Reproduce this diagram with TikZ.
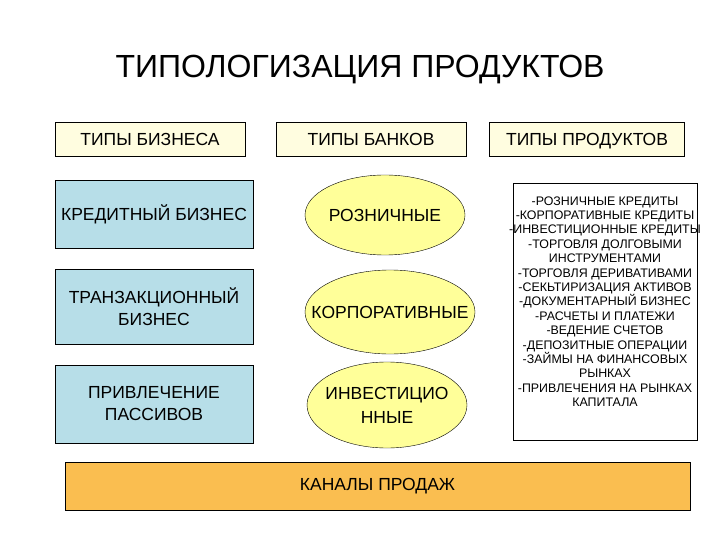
\documentclass[tikz,border=0pt]{standalone}
\usepackage{fontspec}
\setmainfont{Liberation Sans}
\usetikzlibrary{shapes.geometric}
\begin{document}
\begin{tikzpicture}[x=1pt,y=-1pt,
  hdr/.style={draw=black,fill=yellow!12,minimum width=190pt,minimum height=34pt,text height=12.5pt,text depth=0pt,font=\fontsize{17.5}{20}\selectfont},
  biz/.style={draw=black,fill={rgb,255:red,183;green,222;blue,232},minimum width=198pt,align=center,font=\fontsize{17.5}{22}\selectfont},
  bank/.style={ellipse,draw=black,fill={rgb,255:red,255;green,255;blue,153},inner sep=0pt},
  banktext/.style={align=center,font=\fontsize{17.5}{24}\selectfont}]
\useasboundingbox (0,0) rectangle (720,540);
\node (title) at (360,70) {\fontsize{32}{36}\selectfont ТИПОЛОГИЗАЦИЯ ПРОДУКТОВ};
\node[hdr] (h1) at (150,139) {ТИПЫ БИЗНЕСА};
\node[hdr] (h2) at (371,139) {ТИПЫ БАНКОВ};
\node[hdr,minimum width=195pt] (h3) at (587,139) {ТИПЫ ПРОДУКТОВ};
\node[biz,minimum height=68pt] (b1) at (154,214) {КРЕДИТНЫЙ БИЗНЕС};
\node[biz,minimum height=75pt] (b2) at (154,307) {ТРАНЗАКЦИОННЫЙ\\БИЗНЕС};
\node[biz,minimum height=78pt] (b3) at (154,404) {ПРИВЛЕЧЕНИЕ\\ПАССИВОВ};
\node[bank,minimum width=160pt,minimum height=80pt] (e1) at (385,215) {};
\node[bank,minimum width=170pt,minimum height=84pt] (e2) at (390,312) {};
\node[bank,minimum width=160pt,minimum height=86pt] (e3) at (387,405) {};
\node[banktext] (t1) at (e1) {РОЗНИЧНЫЕ};
\node[banktext] (t2) at (e2) {КОРПОРАТИВНЫЕ};
\node[banktext] (t3) at (e3) {ИНВЕСТИЦИО\\ННЫЕ};
\node[draw=black,fill=white,minimum width=184pt,minimum height=257pt,inner sep=0pt] (p) at (605,311.5) {};
\node[align=center,font=\fontsize{12.4}{14.4}\selectfont,anchor=north] (pt) at (605,193) {%
-РОЗНИЧНЫЕ КРЕДИТЫ\\-КОРПОРАТИВНЫЕ КРЕДИТЫ\\-ИНВЕСТИЦИОННЫЕ КРЕДИТЫ\\-ТОРГОВЛЯ ДОЛГОВЫМИ\\ИНСТРУМЕНТАМИ\\-ТОРГОВЛЯ ДЕРИВАТИВАМИ\\-СЕКЬТИРИЗАЦИЯ АКТИВОВ\\-ДОКУМЕНТАРНЫЙ БИЗНЕС\\-РАСЧЕТЫ И ПЛАТЕЖИ\\-ВЕДЕНИЕ СЧЕТОВ\\-ДЕПОЗИТНЫЕ ОПЕРАЦИИ\\-ЗАЙМЫ НА ФИНАНСОВЫХ\\РЫНКАХ\\-ПРИВЛЕЧЕНИЯ НА РЫНКАХ\\КАПИТАЛА};
\node[draw=black,fill={rgb,255:red,250;green,190;blue,80},minimum width=625pt,minimum height=48pt,font=\fontsize{17.5}{20}\selectfont] (ch) at (377.5,486) {КАНАЛЫ ПРОДАЖ};
\end{tikzpicture}
\end{document}
